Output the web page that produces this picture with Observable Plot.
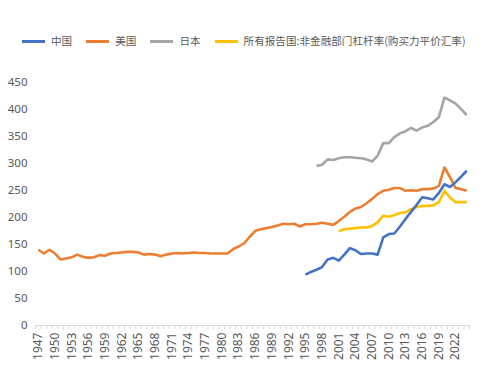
<!DOCTYPE html>
<html>
<head>
<meta charset="utf-8">
<script src="https://cdn.jsdelivr.net/npm/d3@7"></script>
<script src="https://cdn.jsdelivr.net/npm/@observablehq/plot@0.6"></script>
<style>
  html, body { margin: 0; padding: 0; background: #fff; }
  body { width: 489px; height: 377px; overflow: hidden; font-family: "Noto Sans", "Noto Sans CJK SC", sans-serif; }
  #legend { height: 60px; position: relative; }
  #legend .items { position: absolute; left: 22px; top: 33px; display: flex; align-items: center; white-space: nowrap;
    font-family: "Noto Sans CJK SC", "Noto Sans", sans-serif; font-size: 10.6px; color: #595959; line-height: 16px; }
  #legend .item { display: flex; align-items: center; margin-right: 14px; }
  #legend .sw { width: 23px; height: 3px; margin-right: 6px; }
</style>
</head>
<body>
<div id="legend"><div class="items"></div></div>
<div id="chart"></div>
<script>
// ---- data ----
const firstYear = 1947;
const lastYear = 2024;
const years = Array.from({length: lastYear - firstYear + 1}, (_, i) => firstYear + i);
const tickYears = [1947,1950,1953,1956,1959,1962,1965,1968,1971,1974,1977,1980,1983,1986,1989,1992,1995,1998,2001,2004,2007,2010,2013,2016,2019,2022];
const yTicks = [0,50,100,150,200,250,300,350,400,450];

const seriesNames = ["中国", "美国", "日本", "所有报告国:非金融部门杠杆率(购买力平价汇率)"];
const seriesColors = ["#4472C4", "#ED7D31", "#A5A5A5", "#FFC000"];

// 美国 1947-2024
const usaStart = 1947;
const usa = [140,133,140,133,122,124,126,131,127,125,126,130,129,133,134,135,136,136,135,131,
             132,131,128,131,133,134,133,134,135,134,134,133,133,133,133,141,146,152,164,175,
             178,180,182,185,188,187,188,183,187,187,188,190,188,186,193,201,210,216,219,226,
             234,243,249,251,254,254,249,250,249,252,252,253,258,292,274,254,252,249];
// 中国 1995-2024
const chinaStart = 1995;
const china = [94,99,103,108,122,125,120,131,143,139,132,133,133,131,163,169,170,183,197,210,
               223,237,235,233,245,261,256,265,275,286];
// 日本 1997-2024
const japanStart = 1997;
const japan = [295,297,307,306,309,311,311,310,309,307,303,314,337,337,348,355,359,365,360,366,
               369,376,385,421,416,410,400,389];
// 所有报告国 2001-2024
const allStart = 2001;
const allRep = [174,178,179,180,181,181,184,191,203,201,204,208,209,215,219,221,221,222,228,249,
                236,228,228,228];

const seriesData = [[china, chinaStart], [usa, usaStart], [japan, japanStart], [allRep, allStart]];
const rows = [];
seriesData.forEach(([vals, start], k) => {
  vals.forEach((v, i) => rows.push({year: start + i, value: v, series: seriesNames[k]}));
});
// draw order: 日本, 美国, 所有报告国, 中国 (China on top)
const drawOrder = [seriesNames[2], seriesNames[1], seriesNames[3], seriesNames[0]];
const boundaries = years.map(y => y - 0.5).concat([lastYear + 0.5]);

// ---- legend ----
const items = d3.select("#legend .items");
seriesNames.forEach((n, i) => {
  const it = items.append("div").attr("class", "item");
  it.append("div").attr("class", "sw").style("background", seriesColors[i]);
  it.append("span").text(n);
});

// ---- chart ----
const chart = Plot.plot({
  width: 489,
  height: 317,
  marginTop: 21.5,
  marginBottom: 52,
  marginLeft: 35,
  marginRight: 20,
  style: {fontFamily: "'Noto Sans', sans-serif", color: "#595959", background: "#fff"},
  x: {domain: [firstYear - 0.5, lastYear + 0.5], axis: null},
  y: {domain: [0, 450], axis: null},
  color: {domain: seriesNames, range: seriesColors},
  marks: [
    Plot.axisY({ticks: yTicks, label: null, tickSize: 0, tickPadding: 8, fontSize: 11.5, fill: "#595959", tickFormat: d => String(d)}),
    Plot.ruleY([0], {stroke: "#d9d9d9", strokeWidth: 1}),
    Plot.axisX({ticks: boundaries, label: null, tickSize: 4, stroke: "#d9d9d9", tickFormat: () => ""}),
    Plot.axisX({ticks: tickYears, label: null, tickSize: 0, tickPadding: 7, tickRotate: -90, fontSize: 12, fill: "#595959", tickFormat: d => String(d)}),
    ...drawOrder.map(name => Plot.line(rows.filter(r => r.series === name), {
      x: "year", y: "value", stroke: "series", strokeWidth: 2.6, strokeLinejoin: "round", strokeLinecap: "butt"
    }))
  ]
});
document.getElementById("chart").appendChild(chart);
</script>
</body>
</html>
